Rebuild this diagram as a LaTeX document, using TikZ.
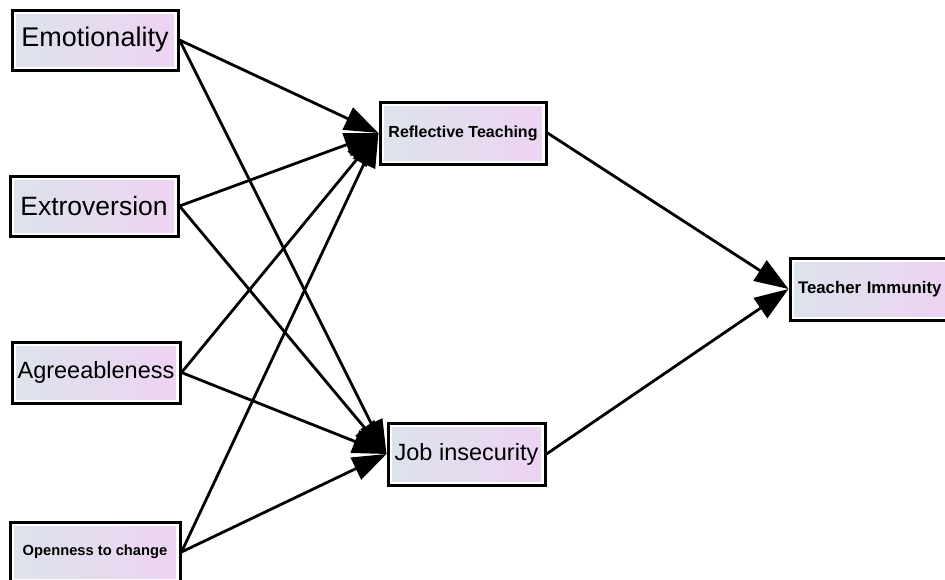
\documentclass[tikz,border=0pt]{standalone}
\usepackage{fontspec}
\setmainfont{Liberation Sans}
\usetikzlibrary{arrows.meta}
\definecolor{gl}{HTML}{DDE3EB}
\definecolor{gr}{HTML}{EDD3F2}
\tikzset{
  var/.style={draw=black, line width=3pt, fill=white, inner sep=0pt, anchor=center,
    path picture={\shade[left color=gl, right color=gr]
      ([shift={(4pt,-4pt)}]path picture bounding box.north west) rectangle
      ([shift={(-4pt,4pt)}]path picture bounding box.south east);}},
  conn/.style={line width=2.8pt, -{Triangle[length=34pt,width=24pt]}},
}
\begin{document}
\begin{tikzpicture}[x=1pt,y=-1pt]
\useasboundingbox (0,0) rectangle (945,579);
\node[var, font=\fontsize{27}{30}\selectfont, minimum width=166pt, minimum height=60pt] (emo) at (95,40) {Emotionality};
\node[var, font=\fontsize{26.5}{30}\selectfont, minimum width=168pt, minimum height=60pt] (ext) at (94,206) {Extroversion};
\node[var, font=\fontsize{23.5}{27}\selectfont, minimum width=168pt, minimum height=61pt] (agr) at (96,372.5) {Agreeableness};
\node[var, font=\fontsize{14.7}{17}\selectfont\bfseries, minimum width=170pt, minimum height=60pt] (ope) at (95,552) {Openness to change};
\node[var, font=\fontsize{16}{19}\selectfont\bfseries, minimum width=166pt, minimum height=62pt] (ref) at (463,133) {Reflective Teaching};
\node[var, font=\fontsize{23.5}{27}\selectfont, minimum width=157pt, minimum height=62pt] (job) at (466.5,454) {Job insecurity};
\node[var, font=\fontsize{16.8}{20}\selectfont\bfseries, minimum width=162pt, minimum height=62pt, text width=146pt, align=left] (imm) at (871,289) {Teacher Immunity};
\draw[conn] (emo.east) -- (ref.west);
\draw[conn] (emo.east) -- (job.west);
\draw[conn] (ext.east) -- (ref.west);
\draw[conn] (ext.east) -- (job.west);
\draw[conn] (agr.east) -- (ref.west);
\draw[conn] (agr.east) -- (job.west);
\draw[conn] (ope.east) -- (ref.west);
\draw[conn] (ope.east) -- (job.west);
\draw[conn] (ref.east) -- (imm.west);
\draw[conn] (job.east) -- (imm.west);
\end{tikzpicture}
\end{document}
